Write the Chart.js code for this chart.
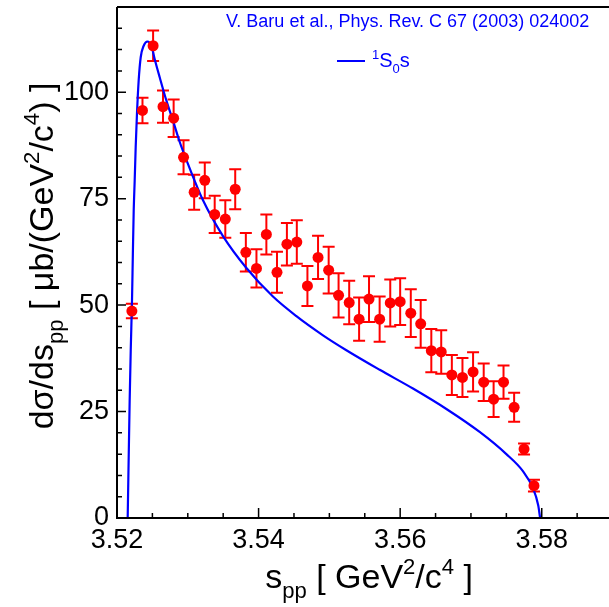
<!DOCTYPE html>
<html>
<head>
<meta charset="utf-8">
<script src="https://cdn.jsdelivr.net/npm/chart.js@4"></script>
<style>
  html, body { margin: 0; padding: 0; background: #fff; }
  #wrap { width: 609px; height: 607px; }
</style>
</head>
<body>
<div id="wrap"><canvas id="sppChart"></canvas></div>
<script>
// measured points: s_pp [GeV^2/c^4], dsigma/ds_pp [mub/(GeV^2/c^4)], error
var spp_values = [3.5221, 3.5236, 3.5251, 3.5265, 3.5280, 3.5294, 3.5309, 3.5324, 3.5338, 3.5353,
                  3.5367, 3.5382, 3.5397, 3.5411, 3.5426, 3.5440, 3.5454, 3.5469, 3.5484, 3.5499,
                  3.5513, 3.5528, 3.5542, 3.5556, 3.5571, 3.5586, 3.5600, 3.5615, 3.5629, 3.5644,
                  3.5658, 3.5673, 3.5688, 3.5703, 3.5718, 3.5732, 3.5746, 3.5761, 3.5775, 3.5789];
var xsec_values = [48.6, 95.7, 110.9, 96.6, 93.9, 84.7, 76.5, 79.3, 71.3, 70.2,
                   77.2, 62.4, 58.6, 66.6, 57.7, 64.3, 64.8, 54.5, 61.2, 58.2,
                   52.3, 50.6, 46.7, 51.4, 46.7, 50.5, 50.8, 48.1, 45.6, 39.3,
                   39.0, 33.6, 33.0, 34.3, 31.9, 27.9, 31.9, 26.0, 16.2, 7.6];
var xsec_errors = [1.7, 3.0, 3.6, 3.8, 4.4, 4.0, 4.1, 4.2, 4.4, 4.4,
                   4.7, 4.5, 4.5, 4.7, 4.8, 5.0, 5.1, 4.7, 5.1, 5.5,
                   5.2, 5.1, 5.1, 5.4, 5.3, 5.5, 5.5, 5.6, 5.6, 5.1,
                   5.1, 4.7, 4.6, 4.6, 4.4, 4.2, 3.9, 3.4, 1.3, 1.4];

// theory curve (1S0s, Baru et al.)
var theory_spp = [3.52151, 3.52179, 3.52194, 3.52212, 3.52224, 3.52236, 3.52250, 3.52264, 3.52282, 3.52306,
                  3.52335, 3.52377, 3.52429, 3.52486, 3.52532, 3.52603, 3.52698, 3.52791, 3.52886, 3.52980,
                  3.53215, 3.53497, 3.53828, 3.54203, 3.54534, 3.54910, 3.55240, 3.55711, 3.56181, 3.56653,
                  3.57123, 3.57500, 3.57734, 3.57876, 3.57950, 3.57977];
var theory_xsec = [0, 27.7, 39.4, 51.1, 62.0, 72.2, 79.3, 87.1, 94.9, 102.7,
                   108.2, 110.9, 111.9, 110.9, 107.8, 103.5, 98.0, 93.3, 88.3, 84.1,
                   74.6, 66.2, 58.7, 52.0, 47.4, 42.9, 39.4, 34.8, 30.4, 25.6,
                   20.2, 15.0, 11.0, 7.0, 3.0, 0];

var x_ticks = [3.52, 3.54, 3.56, 3.58];
var x_minor = [3.525, 3.53, 3.535, 3.545, 3.55, 3.555, 3.565, 3.57, 3.575, 3.585];
var y_ticks = [0, 25, 50, 75, 100];
var y_minor = [5, 10, 15, 20, 30, 35, 40, 45, 55, 60, 65, 70, 80, 85, 90, 95, 105, 110, 115];

var FONT = "'Liberation Sans', Arial, sans-serif";

// text with sub/superscripts: parts = [[text, 0|1|-1], ...]  (1 = sup, -1 = sub)
function richWidth(ctx, parts, size) {
  var w = 0;
  parts.forEach(function (p) {
    ctx.font = (p[1] ? size * 0.65 : size) + 'px ' + FONT;
    w += ctx.measureText(p[0]).width;
  });
  return w;
}
function drawRich(ctx, parts, size, x, y) {
  var cx = x;
  parts.forEach(function (p) {
    var s = p[1] ? size * 0.65 : size;
    ctx.font = s + 'px ' + FONT;
    var dy = p[1] === 1 ? -size * 0.42 : (p[1] === -1 ? size * 0.28 : 0);
    ctx.fillText(p[0], cx, y + dy);
    cx += ctx.measureText(p[0]).width;
  });
}

var rootStyle = {
  id: 'rootStyle',
  beforeDatasetsDraw: function (chart) {
    var ctx = chart.ctx, xs = chart.scales.x, ys = chart.scales.y;
    ctx.save();
    ctx.strokeStyle = '#ff0000';
    ctx.lineWidth = 2;
    for (var i = 0; i < spp_values.length; i++) {
      var px = xs.getPixelForValue(spp_values[i]);
      var top = ys.getPixelForValue(xsec_values[i] + xsec_errors[i]);
      var bot = ys.getPixelForValue(xsec_values[i] - xsec_errors[i]);
      ctx.beginPath();
      ctx.moveTo(px, top); ctx.lineTo(px, bot);
      ctx.moveTo(px - 6, top); ctx.lineTo(px + 6, top);
      ctx.moveTo(px - 6, bot); ctx.lineTo(px + 6, bot);
      ctx.stroke();
    }
    ctx.restore();
  },
  afterDraw: function (chart) {
    var ctx = chart.ctx, xs = chart.scales.x, ys = chart.scales.y, a = chart.chartArea;
    ctx.save();
    // frame + inward ticks
    ctx.strokeStyle = '#000';
    ctx.lineWidth = 2;
    ctx.beginPath();
    ctx.moveTo(a.left, a.top); ctx.lineTo(a.right, a.top);
    ctx.moveTo(a.left, a.top); ctx.lineTo(a.left, a.bottom);
    ctx.lineTo(a.right, a.bottom);
    ctx.stroke();
    ctx.lineWidth = 1.5;
    ctx.beginPath();
    x_ticks.forEach(function (v) { var p = xs.getPixelForValue(v); ctx.moveTo(p, a.bottom); ctx.lineTo(p, a.bottom - 10); });
    x_minor.forEach(function (v) { var p = xs.getPixelForValue(v); ctx.moveTo(p, a.bottom); ctx.lineTo(p, a.bottom - 5); });
    y_ticks.forEach(function (v) { var p = ys.getPixelForValue(v); ctx.moveTo(a.left, p); ctx.lineTo(a.left + 9, p); });
    y_minor.forEach(function (v) { var p = ys.getPixelForValue(v); ctx.moveTo(a.left, p); ctx.lineTo(a.left + 5, p); });
    ctx.stroke();

    // axis titles
    ctx.fillStyle = '#000';
    ctx.textBaseline = 'alphabetic';
    ctx.textAlign = 'left';
    var xt = [['s', 0], ['pp', -1], [' [ GeV', 0], ['2', 1], ['/c', 0], ['4', 1], [' ]', 0]];
    var w = richWidth(ctx, xt, 34);
    drawRich(ctx, xt, 34, 473 - w, 588);

    var yt = [['d\u03c3/ds', 0], ['pp', -1], [' [ \u03bcb/(GeV', 0], ['2', 1], ['/c', 0], ['4', 1], [') ]', 0]];
    ctx.save();
    ctx.translate(53, 0);
    ctx.rotate(-Math.PI / 2);
    w = richWidth(ctx, yt, 34);
    drawRich(ctx, yt, 34, -256 - w / 2, 0);
    ctx.restore();

    // reference + legend
    ctx.fillStyle = '#0000ff';
    ctx.font = '18px ' + FONT;
    ctx.fillText('V. Baru et al., Phys. Rev. C 67 (2003) 024002', 226, 27);
    ctx.strokeStyle = '#0000ff';
    ctx.lineWidth = 2;
    ctx.beginPath(); ctx.moveTo(337, 61); ctx.lineTo(365, 61); ctx.stroke();
    drawRich(ctx, [['1', 1], ['S', 0], ['0', -1], ['s', 0]], 20, 372, 67);
    ctx.restore();
  }
};

var ctx1 = document.getElementById('sppChart').getContext('2d');
var sppChart = new Chart(ctx1, {
  type: 'scatter',
  data: {
    datasets: [{
      label: '1S0s',
      data: theory_spp.map(function (x, i) { return { x: x, y: theory_xsec[i] }; }),
      showLine: true,
      borderColor: '#0000ff',
      borderWidth: 2.2,
      pointRadius: 0,
      cubicInterpolationMode: 'monotone',
      order: 2
    }, {
      label: 'data',
      data: spp_values.map(function (x, i) { return { x: x, y: xsec_values[i] }; }),
      backgroundColor: '#ff0000',
      borderWidth: 0,
      pointRadius: 5.5,
      order: 1
    }]
  },
  options: {
    responsive: true,
    maintainAspectRatio: false,
    animation: false,
    layout: { autoPadding: false, padding: { top: 7, right: 0, left: 0, bottom: 0 } },
    plugins: { legend: { display: false }, tooltip: { enabled: false } },
    scales: {
      x: {
        type: 'linear', min: 3.52, max: 3.5895,
        grid: { display: false, drawTicks: false },
        border: { display: false },
        afterBuildTicks: function (s) { s.ticks = x_ticks.map(function (v) { return { value: v }; }); },
        afterFit: function (s) { s.height = 89; s.paddingLeft = 0; s.paddingRight = 0; },
        ticks: {
          color: '#000', padding: 6, maxRotation: 0, autoSkip: false,
          font: { family: FONT, size: 27 },
          callback: function (v) { return v.toFixed(2); }
        }
      },
      y: {
        min: 0, max: 120,
        grid: { display: false, drawTicks: false },
        border: { display: false },
        afterBuildTicks: function (s) { s.ticks = y_ticks.map(function (v) { return { value: v }; }); },
        afterFit: function (s) { s.width = 117; s.paddingTop = 0; s.paddingBottom = 0; },
        ticks: {
          color: '#000', padding: 8, autoSkip: false,
          font: { family: FONT, size: 27 }
        }
      }
    }
  },
  plugins: [rootStyle]
});
</script>
</body>
</html>
